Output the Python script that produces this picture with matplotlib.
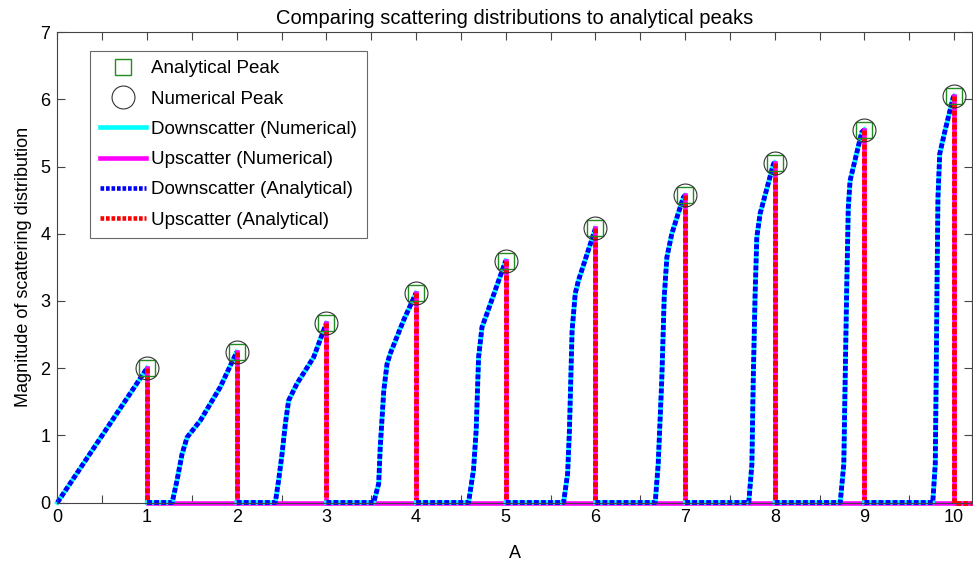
import matplotlib
matplotlib.use("Agg")
import matplotlib.pyplot as plt
from matplotlib.ticker import MultipleLocator

plt.rcParams['font.family'] = ['Liberation Sans', 'DejaVu Sans']

# mass numbers and peak heights
A_vals = [1, 2, 3, 4, 5, 6, 7, 8, 9, 10]
peaks = [2.0, 2.24, 2.67, 3.12, 3.6, 4.08, 4.57, 5.06, 5.55, 6.05]

# downscatter curves (x, y) for each A
down_x = [
    [0.0, 0.5, 1.0],
    [1.28, 1.334, 1.39, 1.446, 1.594, 1.817, 2.0],
    [2.43, 2.467, 2.505, 2.542, 2.579, 2.672, 2.857, 3.0],
    [3.527, 3.583, 3.60, 3.64, 3.676, 3.71, 3.86, 4.0],
    [4.585, 4.64, 4.67, 4.697, 4.735, 4.79, 5.0],
    [5.645, 5.69, 5.71, 5.74, 5.775, 5.81, 6.0],
    [6.667, 6.70, 6.74, 6.767, 6.797, 6.852, 6.98, 7.0],
    [7.71, 7.745, 7.76, 7.78, 7.80, 7.837, 7.986, 8.0],
    [8.73, 8.77, 8.785, 8.804, 8.82, 8.84, 8.97, 9.0],
    [9.762, 9.79, 9.80, 9.81, 9.82, 9.84, 9.90, 9.99, 10.0],
]
down_y = [
    [0.0, 1.0, 2.0],
    [0.0, 0.33, 0.72, 0.97, 1.22, 1.72, 2.24],
    [0.0, 0.33, 0.72, 1.17, 1.52, 1.77, 2.16, 2.67],
    [0.0, 0.28, 0.82, 1.67, 2.06, 2.21, 2.71, 3.12],
    [0.0, 0.48, 1.07, 2.16, 2.61, 2.81, 3.6],
    [0.0, 0.43, 1.07, 2.56, 3.11, 3.30, 4.08],
    [0.0, 0.57, 1.82, 3.05, 3.65, 4.0, 4.54, 4.57],
    [0.0, 0.57, 1.82, 3.05, 3.95, 4.30, 5.04, 5.06],
    [0.0, 0.57, 1.82, 3.30, 4.39, 4.79, 5.51, 5.55],
    [0.0, 0.57, 1.82, 3.30, 4.54, 5.19, 5.54, 6.03, 6.05],
]

fig = plt.figure(figsize=(9.73, 5.64), dpi=100)
ax = fig.add_axes([0.059, 0.109, 0.94, 0.834])

dot = (0, (1.0, 0.45))
for i, A in enumerate(A_vals):
    xs = list(down_x[i])
    ys = list(down_y[i])
    if i > 0:
        xs = [A_vals[i - 1]] + xs
        ys = [0.0] + ys
    ax.plot(xs, ys, color='cyan', lw=3.3, zorder=2, clip_on=False)
    ax.plot(xs, ys, color='blue', lw=3.5, linestyle=dot, zorder=2, clip_on=False)
    end = A + 1 if i < len(A_vals) - 1 else 10.2
    ax.plot([A, A, end], [peaks[i], 0, 0], color='magenta', lw=3.3, zorder=2,
            clip_on=False)
    if i < len(A_vals) - 1:
        ax.plot([A, A], [peaks[i], 0], color='red', lw=3.5, linestyle=dot,
                zorder=2, clip_on=False)
    else:
        ax.plot([A, A, end], [peaks[i], 0, 0], color='red', lw=3.5,
                linestyle=dot, zorder=2, clip_on=False)

ax.plot(A_vals, peaks, linestyle='none', marker='s', ms=11.5, mfc='none',
        mec='#228b22', mew=1.0, zorder=3)
ax.plot(A_vals, peaks, linestyle='none', marker='o', ms=16.5, mfc='none',
        mec='#333333', mew=0.8, zorder=3)

ax.set_xlim(0, 10.2)
ax.set_ylim(0, 7)
ax.xaxis.set_major_locator(MultipleLocator(1))
ax.xaxis.set_minor_locator(MultipleLocator(0.5))
ax.yaxis.set_major_locator(MultipleLocator(1))
ax.tick_params(which='both', direction='in', top=True, right=True,
               length=6, width=0.8, color='#444444', labelsize=13, pad=5)
for s in ax.spines.values():
    s.set_color('#444444')
    s.set_linewidth(0.8)

ax.set_title("Comparing scattering distributions to analytical peaks",
             fontsize=14.5, pad=6)
ax.set_xlabel("A", fontsize=13, labelpad=13)
ax.set_ylabel("Magnitude of scattering distribution", fontsize=13, labelpad=6)

# legend proxies
h = []
h.append(plt.Line2D([], [], linestyle='none', marker='s', ms=11.5, mfc='none',
                    mec='#228b22', mew=1.0))
h.append(plt.Line2D([], [], linestyle='none', marker='o', ms=16.5, mfc='none',
                    mec='#333333', mew=0.8))
h.append(plt.Line2D([], [], color='cyan', lw=3.3))
h.append(plt.Line2D([], [], color='magenta', lw=3.3))
h.append(plt.Line2D([], [], color='blue', lw=3.3, linestyle=(0, (0.8, 0.4))))
h.append(plt.Line2D([], [], color='red', lw=3.3, linestyle=(0, (0.8, 0.4))))
labels = ["Analytical Peak", "Numerical Peak", "Downscatter (Numerical)",
          "Upscatter (Numerical)", "Downscatter (Analytical)",
          "Upscatter (Analytical)"]
leg = ax.legend(h, labels, loc='upper left', bbox_to_anchor=(0.036, 0.96),
                fontsize=13.5, frameon=True, fancybox=False, handlelength=2.45,
                handletextpad=0.3, borderpad=0.5, labelspacing=0.7,
                borderaxespad=0)
leg.get_frame().set_edgecolor('#444444')
leg.get_frame().set_linewidth(0.8)

fig.savefig("out.png", dpi=100)
